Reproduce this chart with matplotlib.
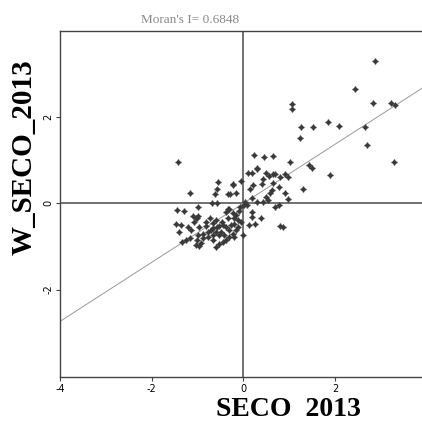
import numpy as np
import matplotlib
matplotlib.use("Agg")
import matplotlib.pyplot as plt

# standardized SECO 2013 vs spatial lag
seco = [2.88, 2.44, 1.06, 1.06, 2.83, 3.23, 3.30, 1.27, 1.53, 1.84, 2.08, 2.66, 1.24,
        2.69, -1.42, 3.29, 0.24, 0.46, 0.65, 1.03, 1.44, 1.49, 1.89, 1.30, -1.17,
        -0.55, -0.58, -0.61, -0.34, -0.28, -0.17, -0.23, -0.05, 0.18, 0.11, 0.31,
        0.30, 0.50, 0.57, 0.64, 0.70, 0.81, 0.92, 0.98, 0.42, 0.40, 0.22, 0.15,
        0.64, 0.62, 0.58, 0.79, 0.90, 0.98, 0.79, 0.69, 0.87, 0.81, 0.39, 0.25,
        0.13, 0.18, 0.09, 0.20, 0.31, 0.42, 0.53, 0.50, 0.02, 0.04, -0.07, -0.10,
        -0.15, -0.20, -0.12, -0.05, -0.20, -0.27, 0.00, -0.34, -0.38, -0.34, -0.47,
        -0.52, -0.58, -0.67, -0.71, -0.60, -0.52, -0.68, -0.58, -0.98, -1.45, -1.29,
        -1.09, -1.04, -1.00, -1.07, -1.47, -1.36, -1.40, -1.20, -1.14, -0.96, -0.82,
        -0.78, -0.89, -0.98, -0.89, -1.02, -1.17, -1.25, -1.34, -1.03, -0.96, -0.92,
        -0.60, -0.52, -0.45, -0.67, -0.78, -0.67, -0.38, -0.31, -0.23, -0.17, -0.12,
        -0.31, -0.42, -0.49, -0.38, -0.45, -0.20, -0.73, -0.60, -0.66, -0.82, -0.23,
        -0.31, 0.18, -0.22, -0.98]
w_seco = [3.31, 2.66, 2.30, 2.19, 2.33, 2.33, 2.28, 1.78, 1.77, 1.89, 1.80, 1.77, 1.51,
          1.35, 0.97, 0.95, 1.12, 1.08, 1.11, 0.95, 0.89, 0.81, 0.65, 0.34, 0.23,
          0.50, 0.33, 0.21, 0.21, 0.22, 0.23, 0.44, 0.53, 0.70, 0.70, 0.81,
          0.79, 0.70, 0.63, 0.67, 0.67, 0.62, 0.67, 0.62, 0.57, 0.44, 0.43, 0.33,
          0.47, 0.31, 0.23, 0.39, 0.23, 0.10, -0.04, -0.08, -0.56, -0.53, -0.35, -0.47,
          -0.50, -0.19, -0.04, 0.12, 0.04, 0.04, 0.08, 0.15, -0.04, 0.04, -0.08, -0.17,
          -0.27, -0.35, -0.39, -0.43, -0.47, -0.50, -0.74, -0.12, -0.19, -0.35, -0.43,
          -0.53, -0.54, -0.58, -0.62, -0.66, -0.74, 0.01, 0.00, -0.08, -0.16, -0.18,
          -0.30, -0.33, -0.35, -0.43, -0.47, -0.50, -0.66, -0.56, -0.62, -0.54, -0.53,
          -0.66, -0.70, -0.74, -0.81, -0.85, -0.81, -0.85, -0.89, -0.97, -0.99, -0.93,
          -1.01, -0.95, -0.89, -0.85, -0.78, -0.74, -0.85, -0.78, -0.70, -0.62, -0.56,
          -0.62, -0.74, -0.66, -0.54, -0.50, -0.78, -0.33, -0.39, -0.45, -0.43, -0.23,
          -0.12, -0.31, 0.43, -0.29]
morans_i = 0.6848
x_ticks = [-4, -2, 0, 2]
y_ticks = [-2, 0, 2]

fig = plt.figure(figsize=(4.22, 4.21), dpi=100)
ax = fig.add_axes([60 / 422, 1 - 377 / 421, 1 - 60 / 422, (377 - 31) / 421])

ax.axvline(0, color="#666666", lw=1.3, zorder=1)
ax.axhline(0, color="#666666", lw=1.3, zorder=1)
xs = np.array([-4.5, 4.5])
ax.plot(xs, morans_i * xs, color="#999999", lw=0.7, zorder=2)
# diamond core plus a cross gives the small star-like glyph of the original
ax.plot(seco, w_seco, ls="none", marker="D", ms=3.0, color="#3a3a3a",
        markeredgewidth=0, zorder=3)
ax.plot(seco, w_seco, ls="none", marker="+", ms=5.0, color="#3a3a3a",
        markeredgewidth=1.0, zorder=3)

ax.set_xlim(-4, 3.9)
ax.set_ylim(-4.03, 4.0)
ax.set_xticks(x_ticks)
ax.set_yticks(y_ticks)
ax.set_xticklabels([str(t) for t in x_ticks])
ax.set_yticklabels([str(t) for t in y_ticks], rotation=90, va="center")
ax.tick_params(labelsize=7, length=3, color="#444444", pad=2)
for s in ["left", "bottom", "top"]:
    ax.spines[s].set_color("#444444")
    ax.spines[s].set_linewidth(1.0)
ax.spines["right"].set_visible(False)

fig.text(190 / 422, 1 - 20 / 421, f"Moran's I= {morans_i}", ha="center", va="center",
         fontsize=9.5, color="#888888", family="Liberation Serif")
fig.text(288 / 422, 1 - 409 / 421, "SECO  2013", ha="center", va="center",
         fontsize=20, fontweight="bold", family="Liberation Serif")
fig.text(24 / 422, 1 - 157 / 421, "W_SECO_2013", ha="center", va="center", rotation=90,
         fontsize=21, fontweight="bold", family="Liberation Serif")

fig.savefig("out.png", dpi=100)
